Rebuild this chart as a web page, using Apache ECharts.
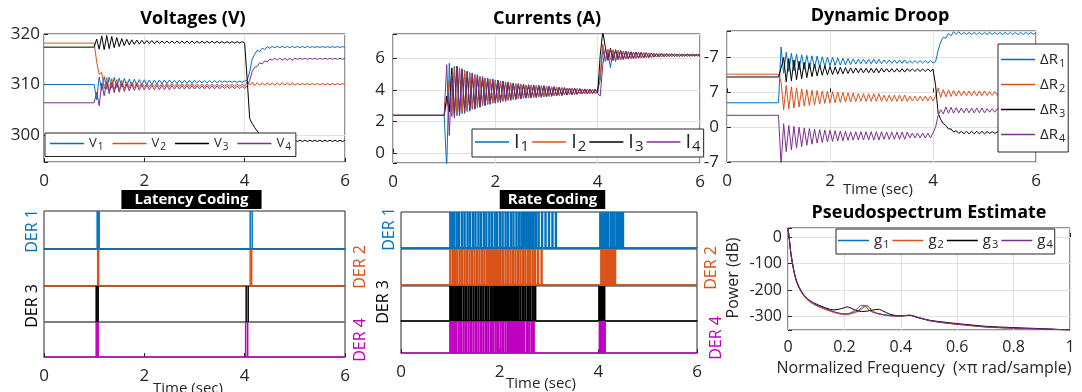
<!DOCTYPE html>
<html lang="en">
<head>
<meta charset="UTF-8">
<title>DER dynamics</title>
<script src="https://cdn.jsdelivr.net/npm/echarts@6.0.0/dist/echarts.min.js"></script>
<style>
  html, body { margin: 0; padding: 0; background: #fff; }
  #chart { width: 1082px; height: 392px; }
</style>
</head>
<body>
<div id="chart"></div>
<script>
// sample times (s) shared by the three top panels
var T = [0, 1.00,
  1.05, 1.10, 1.15, 1.20, 1.25, 1.30, 1.35, 1.40, 1.45, 1.50,
  1.55, 1.60, 1.65, 1.70, 1.75, 1.80, 1.85, 1.90, 1.95, 2.00,
  2.05, 2.10, 2.15, 2.20, 2.25, 2.30, 2.35, 2.40, 2.45, 2.50,
  2.55, 2.60, 2.65, 2.70, 2.75, 2.80, 2.85, 2.90, 2.95, 3.00,
  3.05, 3.10, 3.15, 3.20, 3.25, 3.30, 3.35, 3.40, 3.45, 3.50,
  3.55, 3.60, 3.65, 3.70, 3.75, 3.80, 3.85, 3.90, 3.95, 4.00,
  4.05, 4.10, 4.15, 4.20, 4.25, 4.30, 4.35, 4.40, 4.45, 4.50,
  4.55, 4.60, 4.65, 4.70, 4.75, 4.80, 4.85, 4.90, 4.95, 5.00,
  5.05, 5.10, 5.15, 5.20, 5.25, 5.30, 5.35, 5.40, 5.45, 5.50,
  5.55, 5.60, 5.65, 5.70, 5.75, 5.80, 5.85, 5.90, 5.95, 6.00];

// voltages (V)
var V1 = [310.0, 310.0,
  307.0, 311.5, 308.9, 311.6, 309.1, 311.5, 309.3, 311.4, 309.45, 311.3,
  309.6, 311.2, 309.7, 311.1, 309.8, 311.05, 309.85, 311.0, 309.9, 310.95,
  309.95, 310.9, 310.0, 310.9, 310.1, 310.9, 310.15, 310.9, 310.2, 310.9,
  310.25, 310.85, 310.25, 310.85, 310.25, 310.85, 310.25, 310.85, 310.25, 310.85,
  310.35, 310.8, 310.35, 310.8, 310.35, 310.8, 310.35, 310.8, 310.35, 310.8,
  310.45, 310.7, 310.45, 310.7, 310.45, 310.7, 310.45, 310.7, 310.45, 310.7,
  310.9, 312.5, 315.0, 316.0, 316.8, 316.5, 317.2, 316.9, 317.5, 317.2,
  317.55, 317.3, 317.55, 317.3, 317.55, 317.3, 317.55, 317.3, 317.55, 317.3,
  317.55, 317.3, 317.55, 317.3, 317.55, 317.35, 317.5, 317.35, 317.5, 317.35,
  317.5, 317.35, 317.5, 317.35, 317.5, 317.35, 317.5, 317.35, 317.5, 317.35];
var V2 = [318.2, 318.2,
  314.5, 312.0, 312.4, 309.2, 311.4, 308.8, 311.2, 308.9, 311.0, 309.0,
  310.8, 309.2, 310.6, 309.3, 310.5, 309.4, 310.4, 309.45, 310.3, 309.5,
  310.2, 309.55, 310.2, 309.55, 310.2, 309.55, 310.2, 309.55, 310.2, 309.55,
  310.15, 309.6, 310.15, 309.6, 310.15, 309.6, 310.15, 309.6, 310.15, 309.6,
  310.1, 309.6, 310.1, 309.6, 310.1, 309.6, 310.1, 309.6, 310.1, 309.6,
  310.05, 309.65, 310.05, 309.65, 310.05, 309.65, 310.05, 309.65, 310.05, 309.65,
  310.6, 309.9, 310.5, 309.8, 310.4, 309.85, 310.35, 309.9, 310.35, 309.9,
  310.35, 309.9, 310.35, 309.9, 310.35, 309.9, 310.35, 309.9, 310.35, 309.9,
  310.25, 309.95, 310.25, 309.95, 310.25, 309.95, 310.25, 309.95, 310.25, 309.95,
  310.25, 309.95, 310.25, 309.95, 310.25, 309.95, 310.25, 309.95, 310.25, 309.95];
var V3 = [317.4, 317.4,
  319.0, 317.0, 319.6, 316.9, 319.7, 317.1, 319.5, 317.3, 319.3, 317.5,
  319.1, 317.7, 318.95, 317.85, 318.85, 317.95, 318.8, 318.0, 318.75, 318.05,
  318.7, 318.1, 318.7, 318.1, 318.65, 318.15, 318.6, 318.15, 318.6, 318.15,
  318.6, 318.15, 318.6, 318.15, 318.6, 318.15, 318.6, 318.15, 318.6, 318.15,
  318.55, 318.2, 318.55, 318.2, 318.55, 318.2, 318.55, 318.2, 318.55, 318.2,
  318.5, 318.2, 318.5, 318.2, 318.5, 318.2, 318.5, 318.2, 318.5, 318.2,
  311.0, 303.3, 302.3, 301.5, 300.8, 300.2, 299.8, 299.4, 299.1, 299.0,
  298.7, 299.05, 298.7, 299.05, 298.7, 299.05, 298.7, 299.05, 298.7, 299.05,
  298.75, 299.0, 298.75, 299.0, 298.75, 299.0, 298.75, 299.0, 298.75, 299.0,
  298.75, 299.0, 298.75, 299.0, 298.75, 299.0, 298.75, 299.0, 298.75, 299.0];
var V4 = [306.4, 306.4,
  308.5, 305.8, 310.3, 307.8, 310.6, 308.2, 310.4, 308.4, 310.3, 308.5,
  310.2, 308.65, 310.1, 308.75, 310.0, 308.85, 309.95, 308.9, 309.9, 308.95,
  309.85, 309.0, 309.85, 309.0, 309.85, 309.0, 309.85, 309.0, 309.85, 309.0,
  309.8, 309.1, 309.8, 309.1, 309.8, 309.1, 309.8, 309.1, 309.8, 309.1,
  309.75, 309.15, 309.75, 309.15, 309.75, 309.15, 309.75, 309.15, 309.75, 309.15,
  309.7, 309.2, 309.7, 309.2, 309.7, 309.2, 309.7, 309.2, 309.7, 309.2,
  309.8, 310.8, 312.6, 313.4, 313.6, 314.3, 314.1, 314.7, 314.5, 315.0,
  314.85, 315.2, 314.85, 315.2, 314.85, 315.2, 314.85, 315.2, 314.85, 315.2,
  315.0, 315.2, 315.0, 315.2, 315.0, 315.2, 315.0, 315.2, 315.0, 315.2,
  315.0, 315.2, 315.0, 315.2, 315.0, 315.2, 315.0, 315.2, 315.0, 315.2];

// currents (A)
var I1 = [2.38, 2.38,
  -1.0, 5.7, 2.3, 5.5, 2.35, 5.4, 2.48, 5.25, 2.62, 5.1,
  2.76, 4.98, 2.88, 4.87, 2.98, 4.77, 3.07, 4.69, 3.14, 4.63,
  3.2, 4.57, 3.26, 4.51, 3.32, 4.45, 3.38, 4.4, 3.42, 4.36,
  3.46, 4.32, 3.49, 4.3, 3.51, 4.28, 3.53, 4.26, 3.55, 4.24,
  3.58, 4.2, 3.61, 4.17, 3.64, 4.15, 3.67, 4.12, 3.69, 4.1,
  3.71, 4.08, 3.73, 4.06, 3.75, 4.05, 3.76, 4.03, 3.77, 4.02,
  4.6, 6.6, 5.8, 6.4, 5.4, 6.5, 5.8, 6.5, 5.9, 6.45,
  5.95, 6.43, 5.98, 6.41, 6.0, 6.39, 6.02, 6.37, 6.04, 6.35,
  6.06, 6.33, 6.08, 6.31, 6.09, 6.3, 6.1, 6.29, 6.11, 6.28,
  6.12, 6.27, 6.13, 6.27, 6.13, 6.26, 6.14, 6.26, 6.14, 6.25];
var I2 = [2.38, 2.38,
  3.2, 4.6, 2.5, 5.3, 2.5, 5.35, 2.6, 5.2, 2.72, 5.04,
  2.85, 4.9, 2.96, 4.8, 3.05, 4.7, 3.13, 4.63, 3.2, 4.57,
  3.26, 4.52, 3.31, 4.46, 3.37, 4.41, 3.42, 4.36, 3.46, 4.32,
  3.5, 4.29, 3.52, 4.27, 3.54, 4.25, 3.56, 4.23, 3.58, 4.21,
  3.6, 4.18, 3.63, 4.15, 3.66, 4.13, 3.68, 4.11, 3.7, 4.09,
  3.72, 4.07, 3.74, 4.05, 3.76, 4.04, 3.77, 4.02, 3.78, 4.01,
  5.0, 6.9, 5.9, 6.6, 5.9, 6.55, 5.9, 6.5, 5.92, 6.46,
  5.96, 6.42, 5.99, 6.4, 6.01, 6.38, 6.03, 6.36, 6.05, 6.34,
  6.07, 6.32, 6.09, 6.3, 6.1, 6.29, 6.11, 6.28, 6.12, 6.27,
  6.13, 6.27, 6.13, 6.26, 6.14, 6.25, 6.15, 6.25, 6.15, 6.24];
var I3 = [2.38, 2.38,
  3.6, 2.6, 5.4, 2.4, 5.5, 2.45, 5.3, 2.58, 5.15, 2.7,
  5.04, 2.82, 4.92, 2.93, 4.82, 3.03, 4.73, 3.11, 4.66, 3.17,
  4.6, 3.23, 4.54, 3.29, 4.48, 3.35, 4.42, 3.4, 4.38, 3.44,
  4.34, 3.48, 4.31, 3.5, 4.29, 3.52, 4.27, 3.54, 4.25, 3.56,
  4.22, 3.6, 4.19, 3.63, 4.16, 3.65, 4.13, 3.68, 4.11, 3.7,
  4.09, 3.72, 4.07, 3.74, 4.05, 3.75, 4.04, 3.77, 4.03, 3.78,
  6.2, 7.7, 6.7, 5.9, 6.65, 5.9, 6.55, 5.95, 6.5, 5.95,
  6.45, 5.97, 6.42, 6.0, 6.4, 6.02, 6.38, 6.04, 6.36, 6.06,
  6.34, 6.08, 6.32, 6.1, 6.31, 6.11, 6.3, 6.12, 6.29, 6.13,
  6.28, 6.13, 6.27, 6.14, 6.27, 6.14, 6.26, 6.15, 6.25, 6.15];
var I4 = [2.38, 2.38,
  5.6, 1.1, 5.0, 2.2, 5.4, 2.35, 5.35, 2.5, 5.2, 2.64,
  5.08, 2.76, 4.96, 2.88, 4.85, 2.98, 4.76, 3.07, 4.69, 3.14,
  4.62, 3.2, 4.56, 3.26, 4.5, 3.32, 4.44, 3.38, 4.4, 3.42,
  4.36, 3.46, 4.33, 3.48, 4.31, 3.5, 4.29, 3.52, 4.27, 3.54,
  4.24, 3.58, 4.21, 3.61, 4.18, 3.63, 4.15, 3.66, 4.12, 3.69,
  4.1, 3.71, 4.08, 3.73, 4.06, 3.74, 4.05, 3.76, 4.04, 3.77,
  3.6, 5.6, 6.6, 5.85, 6.6, 5.85, 6.5, 5.9, 6.47, 5.93,
  6.43, 5.98, 6.41, 6.0, 6.39, 6.03, 6.37, 6.05, 6.35, 6.07,
  6.33, 6.09, 6.31, 6.11, 6.3, 6.12, 6.29, 6.13, 6.28, 6.14,
  6.27, 6.14, 6.26, 6.15, 6.26, 6.15, 6.25, 6.16, 6.25, 6.16];

// dynamic droop, in units of the panel's own tick spacing
var R1 = [-0.30, -0.30,
  1.3, 0.55, 1.15, 0.6, 1.12, 0.62, 1.1, 0.64, 1.08, 0.66,
  1.06, 0.68, 1.05, 0.7, 1.04, 0.72, 1.02, 0.74, 1.01, 0.76,
  1.0, 0.77, 0.99, 0.78, 0.98, 0.79, 0.97, 0.8, 0.96, 0.81,
  0.95, 0.82, 0.95, 0.82, 0.95, 0.82, 0.95, 0.82, 0.95, 0.82,
  0.93, 0.83, 0.93, 0.83, 0.93, 0.83, 0.93, 0.83, 0.93, 0.83,
  0.91, 0.84, 0.91, 0.84, 0.91, 0.84, 0.91, 0.84, 0.91, 0.84,
  0.88, 1.2, 1.45, 1.58, 1.55, 1.7, 1.62, 1.74, 1.66, 1.74,
  1.66, 1.72, 1.66, 1.72, 1.66, 1.72, 1.66, 1.72, 1.66, 1.72,
  1.66, 1.72, 1.66, 1.72, 1.66, 1.72, 1.66, 1.72, 1.66, 1.72,
  1.66, 1.72, 1.66, 1.72, 1.66, 1.72, 1.66, 1.72, 1.66, 1.72];
var R2 = [0.52, 0.52,
  0.3, -0.5, 0.2, -0.48, 0.16, -0.45, 0.13, -0.42, 0.1, -0.4,
  0.08, -0.38, 0.06, -0.36, 0.05, -0.34, 0.04, -0.32, 0.03, -0.31,
  0.02, -0.3, 0.01, -0.29, 0.0, -0.28, -0.01, -0.28, -0.02, -0.27,
  -0.04, -0.26, -0.04, -0.26, -0.04, -0.26, -0.04, -0.26, -0.04, -0.26,
  -0.08, -0.26, -0.08, -0.26, -0.08, -0.26, -0.08, -0.26, -0.08, -0.26,
  -0.11, -0.25, -0.11, -0.25, -0.11, -0.25, -0.11, -0.25, -0.11, -0.25,
  -0.1, 0.12, -0.15, 0.08, -0.13, 0.07, -0.12, 0.06, -0.11, 0.05,
  -0.1, 0.04, -0.1, 0.04, -0.1, 0.04, -0.1, 0.04, -0.1, 0.04,
  -0.09, 0.02, -0.09, 0.02, -0.09, 0.02, -0.09, 0.02, -0.09, 0.02,
  -0.09, 0.02, -0.09, 0.02, -0.09, 0.02, -0.09, 0.02, -0.09, 0.02];
var R3 = [0.44, 0.44,
  0.7, 1.0, 0.3, 0.97, 0.33, 0.93, 0.36, 0.89, 0.39, 0.86,
  0.42, 0.83, 0.45, 0.8, 0.47, 0.78, 0.49, 0.76, 0.5, 0.74,
  0.51, 0.73, 0.52, 0.72, 0.53, 0.71, 0.54, 0.7, 0.55, 0.7,
  0.56, 0.69, 0.56, 0.69, 0.56, 0.69, 0.56, 0.69, 0.56, 0.69,
  0.58, 0.68, 0.58, 0.68, 0.58, 0.68, 0.58, 0.68, 0.58, 0.68,
  0.6, 0.67, 0.6, 0.67, 0.6, 0.67, 0.6, 0.67, 0.6, 0.67,
  0.2, -0.6, -0.78, -0.9, -0.95, -1.05, -1.05, -1.14, -1.1, -1.18,
  -1.12, -1.19, -1.12, -1.19, -1.12, -1.19, -1.12, -1.19, -1.12, -1.19,
  -1.13, -1.18, -1.13, -1.18, -1.13, -1.18, -1.13, -1.18, -1.13, -1.18,
  -1.13, -1.18, -1.13, -1.18, -1.13, -1.18, -1.13, -1.18, -1.13, -1.18];
var R4 = [-0.66, -0.66,
  -2.1, -0.9, -1.7, -0.95, -1.65, -0.98, -1.6, -1.0, -1.56, -1.02,
  -1.52, -1.04, -1.49, -1.06, -1.46, -1.07, -1.44, -1.08, -1.42, -1.09,
  -1.41, -1.1, -1.4, -1.11, -1.39, -1.12, -1.38, -1.13, -1.37, -1.13,
  -1.37, -1.13, -1.37, -1.13, -1.37, -1.13, -1.37, -1.13, -1.37, -1.13,
  -1.35, -1.14, -1.35, -1.14, -1.35, -1.14, -1.35, -1.14, -1.35, -1.14,
  -1.31, -1.17, -1.31, -1.17, -1.31, -1.17, -1.31, -1.17, -1.31, -1.17,
  -1.0, -0.66, -0.5, -0.62, -0.42, -0.6, -0.43, -0.6, -0.44, -0.59,
  -0.45, -0.59, -0.45, -0.59, -0.45, -0.59, -0.45, -0.59, -0.45, -0.59,
  -0.47, -0.57, -0.47, -0.57, -0.47, -0.57, -0.47, -0.57, -0.47, -0.57,
  -0.47, -0.57, -0.47, -0.57, -0.47, -0.57, -0.47, -0.57, -0.47, -0.57];
var droopTickVals = [-2, -1, 0, 1];
var droopTickText = ['-7', '0', '7', '-7'];

// spike times (s)
var latency1 = [1.06, 1.08, 1.10, 4.11, 4.15];
var latency2 = [1.07, 1.09, 4.11, 4.14];
var latency3 = [1.04, 1.06, 1.08, 4.03, 4.07];
var latency4 = [1.04, 1.06, 1.08, 4.02, 4.06];
var rate1 = [1.00, 1.04, 1.08, 1.13, 1.18, 1.24, 1.29, 1.35, 1.40, 1.46, 1.51, 1.57, 1.62, 1.68, 1.73,
  1.79, 1.84, 1.90, 1.95, 2.01, 2.06, 2.12, 2.17, 2.23, 2.28, 2.34, 2.39, 2.44, 2.47, 2.49, 2.51,
  2.53, 2.55, 2.57, 2.59, 2.61, 2.63, 2.65, 2.67, 2.69, 2.74, 2.79, 2.86, 2.93, 3.00, 3.07, 3.14,
  4.04, 4.08, 4.12, 4.16, 4.20, 4.25, 4.29, 4.33, 4.38, 4.42, 4.46, 4.50];
var rate2 = [1.00, 1.05, 1.09, 1.14, 1.19, 1.24, 1.29, 1.34, 1.39, 1.44, 1.49, 1.54, 1.59, 1.64, 1.69,
  1.74, 1.78, 1.80, 1.82, 1.84, 1.86, 1.88, 1.90, 1.92, 1.94, 1.96, 1.98, 2.00, 2.02, 2.07, 2.12,
  2.17, 2.22, 2.27, 2.32, 2.37, 2.42, 2.47, 2.52, 2.57, 2.62, 2.67, 2.72, 2.78, 2.85,
  4.06, 4.10, 4.14, 4.18, 4.22, 4.26, 4.30, 4.34];
var rate3 = [1.00, 1.03, 1.06, 1.10, 1.14, 1.18, 1.22, 1.27, 1.32, 1.37, 1.42, 1.47, 1.52, 1.57, 1.62,
  1.67, 1.72, 1.77, 1.82, 1.87, 1.90, 1.925, 1.95, 1.975, 2.00, 2.025, 2.05, 2.075, 2.10, 2.125,
  2.15, 2.175, 2.20, 2.225, 2.25, 2.275, 2.30, 2.325, 2.35, 2.375, 2.42, 2.47, 2.52, 2.57, 2.62,
  2.67, 2.72, 4.02, 4.04, 4.06, 4.08, 4.10, 4.12];
var rate4 = [1.00, 1.04, 1.08, 1.12, 1.17, 1.22, 1.27, 1.32, 1.37, 1.42, 1.47, 1.52, 1.57, 1.62, 1.67,
  1.72, 1.77, 1.82, 1.87, 1.92, 1.97, 2.02, 2.07, 2.12, 2.17, 2.21, 2.24, 2.265, 2.29, 2.315, 2.34,
  2.365, 2.39, 2.415, 2.44, 2.465, 2.49, 2.55, 2.60, 2.65, 2.69,
  4.03, 4.05, 4.07, 4.09, 4.11, 4.13];

// pseudospectrum (dB) against normalized frequency
var FQ = [0, 0.005, 0.01, 0.02, 0.03, 0.045, 0.065, 0.09, 0.125, 0.16, 0.18, 0.2, 0.21, 0.22, 0.24, 0.25,
  0.26, 0.27, 0.28, 0.29, 0.3, 0.32, 0.34, 0.36, 0.38, 0.4, 0.43, 0.46, 0.5, 0.55, 0.6, 0.65, 0.7, 0.8, 0.9, 1.0];
var G1 = [32, -10, -62, -124, -167, -202, -231, -251, -268, -281, -287, -290, -290, -288, -281, -275,
  -267, -259, -258, -268, -280, -288, -292, -295, -297, -297, -294, -302, -314, -322, -328, -333, -338, -343, -346, -350];
var G2 = [32, -11, -63, -126, -169, -204, -233, -253, -270, -283, -289, -292, -292, -290, -284, -279,
  -272, -264, -260, -266, -279, -289, -293, -296, -298, -298, -295, -303, -315, -323, -329, -334, -339, -344, -347, -350];
var G3 = [32, -10, -60, -122, -165, -200, -228, -247, -263, -274, -272, -266, -263, -266, -276, -279,
  -280, -280, -279, -277, -275, -272, -280, -290, -295, -297, -295, -303, -313, -320, -326, -331, -336, -341, -345, -350];
var G4 = [32, -9, -58, -120, -164, -199, -229, -249, -266, -280, -286, -289, -289, -286, -275, -265,
  -257, -258, -268, -277, -283, -289, -293, -296, -297, -297, -294, -302, -314, -322, -328, -333, -338, -343, -346, -350];

var FONT = '"Open Sans", "Noto Sans", sans-serif';
var INK = '#262626';
var GRIDLINE = '#e2e2e2';
var BLUE = '#0072BD', ORANGE = '#D95319', BLACK = '#000000', PURPLE = '#7E2F8E', MAGENTA = '#C000C0';

var grids = [], xAxes = [], yAxes = [], series = [];

function pairs(xs, ys) { return xs.map(function (x, i) { return [x, ys[i]]; }); }

function addGrid(box) {
    grids.push(Object.assign({ show: true, borderColor: INK, borderWidth: 1 }, box));
    return grids.length - 1;
}

function timeAxis(gi, margin, size) {
    return {
        type: 'value', gridIndex: gi, min: 0, max: 6, interval: 2,
        axisLine: { show: false },
        axisTick: { show: true, inside: true, length: 4, lineStyle: { color: INK } },
        axisLabel: { color: INK, fontSize: size || 17, margin: margin, fontFamily: FONT },
        splitLine: { show: true, lineStyle: { color: GRIDLINE } }
    };
}

function valueAxis(gi, extra, margin, size) {
    return Object.assign({
        type: 'value', gridIndex: gi,
        axisLine: { show: false },
        axisTick: { show: true, inside: true, length: 4, lineStyle: { color: INK } },
        axisLabel: { color: INK, fontSize: size || 17, margin: margin, fontFamily: FONT, showMinLabel: true, showMaxLabel: true },
        splitLine: { show: true, lineStyle: { color: GRIDLINE } }
    }, extra);
}

function multipleOf(step) {
    return function (v) {
        return Math.abs(v - Math.round(v / step) * step) < 1e-6 ? String(Math.round(v * 10) / 10) : '';
    };
}

function line(name, gi, xs, ys, color, smooth) {
    return {
        name: name, type: 'line', xAxisIndex: gi, yAxisIndex: gi, data: pairs(xs, ys),
        showSymbol: false, symbol: 'none', smooth: smooth || false, silent: true,
        lineStyle: { width: 1, color: color }, itemStyle: { color: color }
    };
}

// top row
var gV = addGrid({ left: 44, top: 34, width: 301, height: 128 });
xAxes.push(timeAxis(gV, 11));
yAxes.push(valueAxis(gV, { min: 294.7, max: 320, splitNumber: 2 }, 4));
yAxes[gV].axisLabel.formatter = multipleOf(10);
series.push(line('V1', gV, T, V1, BLUE), line('V2', gV, T, V2, ORANGE),
            line('V3', gV, T, V3, BLACK), line('V4', gV, T, V4, PURPLE));

var gI = addGrid({ left: 393, top: 34, width: 307, height: 129 });
xAxes.push(timeAxis(gI, 11));
yAxes.push(valueAxis(gI, { min: -0.65, max: 7.55, splitNumber: 4 }, 8));
yAxes[gI].axisLabel.formatter = multipleOf(2);
series.push(line('I1', gI, T, I1, BLUE), line('I2', gI, T, I2, ORANGE),
            line('I3', gI, T, I3, BLACK), line('I4', gI, T, I4, PURPLE));

var gR = addGrid({ left: 727, top: 31, width: 309, height: 131 });
xAxes.push(timeAxis(gR, 11));
yAxes.push(valueAxis(gR, { min: -2, max: 1.76, interval: 1 }, 8));
yAxes[gR].axisLabel.formatter = function (v) {
    var i = droopTickVals.indexOf(Math.round(v * 100) / 100);
    return i < 0 ? '' : droopTickText[i];
};
series.push(line('ΔR1', gR, T, R1, BLUE), line('ΔR2', gR, T, R2, ORANGE),
            line('ΔR3', gR, T, R3, BLACK), line('ΔR4', gR, T, R4, PURPLE));

// spike rasters, one small grid per DER; each spike is a full-height stripe
function spikeSeries(gi, times, color, w) {
    return {
        type: 'custom', xAxisIndex: gi, yAxisIndex: gi, silent: true, clip: true,
        data: times.map(function (t) { return [t]; }),
        renderItem: function (params, api) {
            var top = api.coord([api.value(0), 1]);
            var bottom = api.coord([api.value(0), 0]);
            return {
                type: 'rect',
                shape: { x: top[0] - w / 2, y: top[1], width: w, height: bottom[1] - top[1] },
                style: { fill: color }
            };
        }
    };
}

function spikePanel(left, width, rows, margin, w) {
    rows.forEach(function (r, i) {
        var gi = addGrid({ left: left, top: r.top, width: width, height: r.height });
        var last = i === rows.length - 1;
        xAxes.push({
            type: 'value', gridIndex: gi, min: 0, max: 6, interval: 2,
            axisLine: { show: true, onZero: false, lineStyle: { color: r.base, width: 1.5 } },
            axisTick: { show: last, inside: true, length: 4, lineStyle: { color: INK } },
            axisLabel: { show: last, color: INK, fontSize: 17, margin: margin, fontFamily: FONT },
            splitLine: { show: false }
        });
        yAxes.push({ type: 'value', gridIndex: gi, min: 0, max: 1, show: false });
        series.push(spikeSeries(gi, r.times, r.color, w));
    });
}

spikePanel(44, 301, [
    { top: 211, height: 38, times: latency1, color: BLUE, base: BLUE },
    { top: 249, height: 37, times: latency2, color: ORANGE, base: ORANGE },
    { top: 286, height: 36, times: latency3, color: BLACK, base: '#888' },
    { top: 322, height: 35, times: latency4, color: MAGENTA, base: MAGENTA }
], 11, 1.5);

spikePanel(401, 296, [
    { top: 212, height: 36, times: rate1, color: BLUE, base: BLUE },
    { top: 249, height: 36, times: rate2, color: ORANGE, base: ORANGE },
    { top: 286, height: 35, times: rate3, color: BLACK, base: '#111' },
    { top: 321, height: 32, times: rate4, color: MAGENTA, base: MAGENTA }
], 11, 2.4);

// pseudospectrum
var gP = addGrid({ left: 788, top: 228, width: 282, height: 102 });
xAxes.push(valueAxis(gP, { min: 0, max: 1, interval: 0.2 }, 9, 16));
xAxes[gP].axisLabel.formatter = function (v) { return String(Math.round(v * 10) / 10); };
yAxes.push(valueAxis(gP, { min: -350, max: 34, splitNumber: 4 }, 6, 16));
yAxes[gP].axisLabel.formatter = multipleOf(100);
series.push(line('g1', gP, FQ, G1, BLUE, 0.3), line('g2', gP, FQ, G2, ORANGE, 0.3),
            line('g3', gP, FQ, G3, BLACK, 0.3), line('g4', gP, FQ, G4, PURPLE, 0.3));

// legends with subscripted labels
function legend(names, box, sizes) {
    return Object.assign({
        data: names.map(function (n) { return { name: n, icon: 'rect' }; }),
        formatter: function (n) { return '{m|' + n.slice(0, -1) + '}{s|' + n.slice(-1) + '}'; },
        itemWidth: 34, itemHeight: 1.5, itemGap: 6, padding: [4, 5],
        backgroundColor: '#fff', borderColor: INK, borderWidth: 1, borderRadius: 0,
        selectedMode: false,
        textStyle: {
            rich: {
                m: { fontSize: sizes[0], color: INK, fontFamily: FONT },
                s: { fontSize: sizes[1], color: INK, fontFamily: FONT, padding: [sizes[2], 0, 0, 1] }
            }
        }
    }, box);
}

var legends = [
    legend(['V1', 'V2', 'V3', 'V4'], { left: 45, top: 133, itemGap: 9 }, [13, 10, 8]),
    legend(['I1', 'I2', 'I3', 'I4'], { left: 472, top: 129, itemGap: 3, padding: [3, 3] }, [20, 15, 9]),
    legend(['ΔR1', 'ΔR2', 'ΔR3', 'ΔR4'], { left: 998, top: 44, orient: 'vertical', itemGap: 8, padding: [8, 3] }, [15, 11, 8]),
    legend(['g1', 'g2', 'g3', 'g4'], { left: 836, top: 229, itemGap: 3, itemWidth: 31, padding: [4, 2] }, [15, 11, 8])
];

// free text
function label(text, x, y, o) {
    o = o || {};
    return {
        type: 'text', x: x, y: y, rotation: o.rot || 0, z: 100, silent: true,
        style: {
            text: text, fill: o.color || INK,
            font: (o.bold ? 'bold ' : '') + (o.size || 16) + 'px ' + FONT,
            align: 'center', verticalAlign: 'middle',
            backgroundColor: o.bg, padding: o.pad
        }
    };
}
var UP = Math.PI / 2;
var texts = [
    label('Voltages (V)', 193, 19, { bold: true, size: 18, color: '#000' }),
    label('Currents (A)', 547, 19, { bold: true, size: 18, color: '#000' }),
    label('Dynamic Droop', 880, 16, { bold: true, size: 18, color: '#000' }),
    label('Pseudospectrum Estimate', 929, 213, { bold: true, size: 18, color: '#000' }),
    label('Latency Coding', 191.5, 199.5, { bold: true, size: 15, color: '#fff', bg: '#000', pad: [2, 13] }),
    label('Rate Coding', 552.5, 199.5, { bold: true, size: 15, color: '#fff', bg: '#000', pad: [2, 8] }),
    label('Time (sec)', 878, 190, { size: 15 }),
    label('Time (sec)', 541, 384, { size: 15 }),
    label('Time (sec)', 188, 389, { size: 15 }),
    label('DER 1', 32, 231, { rot: UP, color: BLUE }),
    label('DER 3', 32, 306, { rot: UP, color: BLACK }),
    label('DER 2', 360, 267, { rot: UP, color: ORANGE }),
    label('DER 4', 360, 340, { rot: UP, color: MAGENTA }),
    label('DER 1', 389, 229, { rot: UP, color: BLUE }),
    label('DER 3', 383, 302, { rot: UP, color: BLACK }),
    label('DER 2', 711, 268, { rot: UP, color: ORANGE }),
    label('DER 4', 716, 338, { rot: UP, color: MAGENTA }),
    label('Normalized Frequency  (×π rad/sample)', 924, 368, { size: 16 }),
    label('Power (dB)', 733, 278, { rot: UP, size: 16 })
];

var chart = echarts.init(document.getElementById('chart'));
chart.setOption({
    animation: false,
    backgroundColor: '#fff',
    textStyle: { fontFamily: FONT },
    grid: grids,
    xAxis: xAxes,
    yAxis: yAxes,
    legend: legends,
    series: series,
    graphic: { elements: texts }
});
</script>
</body>
</html>
